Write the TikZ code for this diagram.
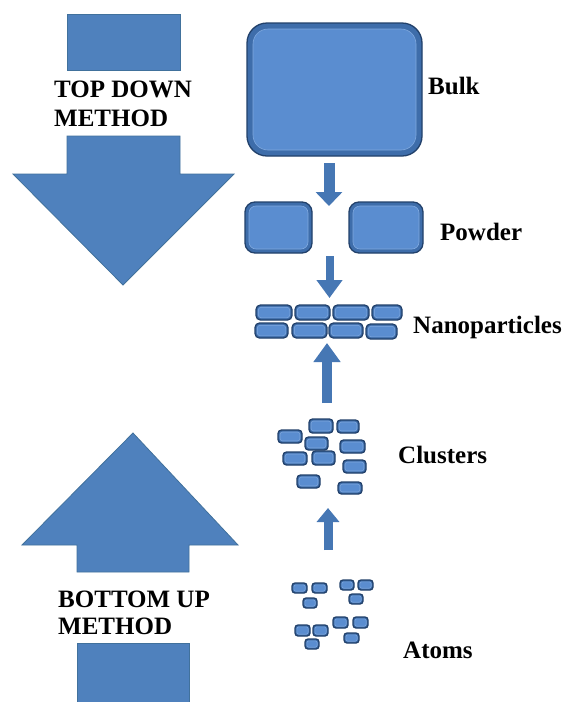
\documentclass[tikz,border=0pt]{standalone}
\usepackage{fontspec}
\setmainfont{Liberation Serif}[BoldFont={Liberation Serif Bold}]
\usetikzlibrary{arrows.meta,fit}
\definecolor{bigfill}{HTML}{4F81BD}
\definecolor{bigline}{HTML}{41719C}
\definecolor{boxrim}{HTML}{3E6DAA}
\definecolor{boxedge}{HTML}{22416B}
\definecolor{boxface}{HTML}{5A8DD0}
\definecolor{boxhi}{HTML}{7FA8DE}
\definecolor{arrfill}{HTML}{4677B4}
\newcommand\bev[8]{%
  \draw[boxout, rounded corners=#6] (#2,#3) rectangle (#4,#5);
  \draw[boxin, rounded corners=#8] (#2+#7,#3+#7) rectangle (#4-#7,#5-#7);
  \node[fit={(#2,#3)(#4,#5)}, inner sep=0pt] (#1) {};
}
\tikzset{
  boxout/.style={fill=boxrim, draw=boxedge, line width=1.3pt},
  boxin/.style={fill=boxface, draw=boxhi, line width=0.6pt},
  bigarrow/.style={fill=bigfill, draw=bigline, line width=0.8pt, line join=miter},
  lab/.style={anchor=base west, inner sep=0pt, font=\fontsize{25}{30}\selectfont\bfseries},
  smallarr/.style={draw=arrfill, line width=#1}
}
\begin{document}
\begin{tikzpicture}[x=1pt,y=-1pt]
\useasboundingbox[fill=white] (0,0) rectangle (568,702);

% ---- TOP DOWN big arrow
\draw[bigarrow] (67,14) rectangle (180,70);
\draw[bigarrow] (67,136) -- (180,136) -- (180,174) -- (234,174) -- (123,285) -- (13,174) -- (67,174) -- cycle;
\node[lab] (td1) at (54,97) {TOP DOWN};
\node[lab] (td2) at (54,126) {METHOD};

% ---- BOTTOM UP big arrow
\draw[bigarrow] (133,433) -- (238,545) -- (189,545) -- (189,572) -- (77,572) -- (77,545) -- (22,545) -- cycle;
\draw[bigarrow] (77,643) rectangle (189,703);
\node[lab] (bu1) at (58,607) {BOTTOM UP};
\node[lab] (bu2) at (58,634) {METHOD};

% ---- Bulk
\bev{bulk}{247}{23}{422}{156}{20pt}{6}{15pt}
\node[lab] (lbulk) at (428,94) {Bulk};

% ---- Powder
\bev{pow1}{245}{202}{312}{253}{10pt}{4}{7pt}
\bev{pow2}{349}{202}{423}{253}{10pt}{4}{7pt}
\node[lab] (lpow) at (440,240) {Powder};

% ---- Nanoparticles
\bev{n1}{256}{305}{292}{320}{4.5pt}{2.2}{3pt}
\bev{n2}{295}{305}{330}{320}{4.5pt}{2.2}{3pt}
\bev{n3}{333}{305}{369}{320}{4.5pt}{2.2}{3pt}
\bev{n4}{372}{305}{402}{320}{4.5pt}{2.2}{3pt}
\bev{n5}{255}{323}{288}{338}{4.5pt}{2.2}{3pt}
\bev{n6}{292}{323}{327}{338}{4.5pt}{2.2}{3pt}
\bev{n7}{329}{323}{363}{338}{4.5pt}{2.2}{3pt}
\bev{n8}{366}{324}{397}{339}{4.5pt}{2.2}{3pt}
\node[lab] (lnano) at (413,333) {Nanoparticles};

% ---- Clusters
\bev{c1}{309}{419}{333}{433}{3.5pt}{2}{2.5pt}
\bev{c2}{337}{420}{359}{433}{3.5pt}{2}{2.5pt}
\bev{c3}{278}{430}{302}{443}{3.5pt}{2}{2.5pt}
\bev{c4}{305}{437}{328}{450}{3.5pt}{2}{2.5pt}
\bev{c5}{340}{440}{365}{453}{3.5pt}{2}{2.5pt}
\bev{c6}{283}{452}{307}{465}{3.5pt}{2}{2.5pt}
\bev{c7}{312}{451}{335}{465}{3.5pt}{2}{2.5pt}
\bev{c8}{343}{460}{366}{473}{3.5pt}{2}{2.5pt}
\bev{c9}{297}{475}{320}{488}{3.5pt}{2}{2.5pt}
\bev{c10}{338}{482}{362}{494}{3.5pt}{2}{2.5pt}
\node[lab] (lclus) at (398,463) {Clusters};

% ---- Atoms
\bev{a1}{292}{583}{307}{593}{3pt}{1.8}{2pt}
\bev{a2}{312}{583}{327}{593}{3pt}{1.8}{2pt}
\bev{a3}{303}{598}{317}{608}{3pt}{1.8}{2pt}
\bev{a4}{340}{580}{354}{590}{3pt}{1.8}{2pt}
\bev{a5}{358}{580}{373}{590}{3pt}{1.8}{2pt}
\bev{a6}{349}{594}{363}{604}{3pt}{1.8}{2pt}
\bev{a7}{295}{625}{310}{636}{3pt}{1.8}{2pt}
\bev{a8}{313}{625}{328}{636}{3pt}{1.8}{2pt}
\bev{a9}{305}{639}{319}{649}{3pt}{1.8}{2pt}
\bev{a10}{333}{617}{348}{628}{3pt}{1.8}{2pt}
\bev{a11}{353}{617}{368}{628}{3pt}{1.8}{2pt}
\bev{a12}{344}{633}{359}{643}{3pt}{1.8}{2pt}
\node[lab] (latoms) at (403,658) {Atoms};

% ---- small arrows
\coordinate (s1a) at (329,163);
\coordinate (s1b) at (329,206);
\coordinate (s2a) at (329.5,256);
\coordinate (s2b) at (329.5,298);
\coordinate (s3a) at (327,403);
\coordinate (s3b) at (327,343);
\coordinate (s4a) at (328,550);
\coordinate (s4b) at (328,508);
\draw[smallarr=11pt, -{Triangle[width=26pt,length=14pt,fill=arrfill]}] (s1a) -- (s1b);
\draw[smallarr=8pt, -{Triangle[width=25pt,length=18pt,fill=arrfill]}] (s2a) -- (s2b);
\draw[smallarr=10pt, -{Triangle[width=26pt,length=19pt,fill=arrfill]}] (s3a) -- (s3b);
\draw[smallarr=9pt, -{Triangle[width=22pt,length=14pt,fill=arrfill]}] (s4a) -- (s4b);
\end{tikzpicture}
\end{document}
